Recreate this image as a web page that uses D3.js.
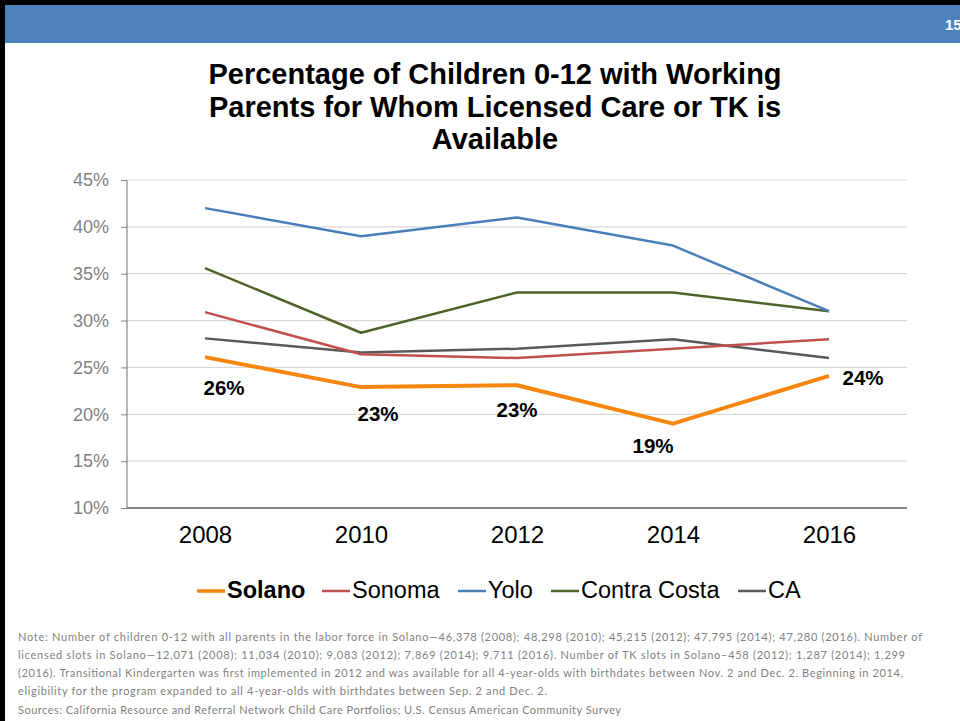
<!DOCTYPE html>
<html><head><meta charset="utf-8">
<script src="https://cdn.jsdelivr.net/npm/d3@7"></script>
<style>html,body{margin:0;padding:0;background:#fff;}svg{display:block;}</style>
</head><body>
<svg id="c" width="960" height="721"></svg>
<script>
const years = ["2008","2010","2012","2014","2016"];
const yTicks = [10,15,20,25,30,35,40,45];
const solano = [26.1,22.9,23.1,19.0,24.1];
const sonoma = [30.9,26.4,26.0,27.0,28.0];
const yolo = [42.0,39.0,41.0,38.0,31.0];
const contraCosta = [35.6,28.7,33.0,33.0,31.0];
const ca = [28.1,26.6,27.0,28.0,26.0];
const seriesNames = ["Solano","Sonoma","Yolo","Contra Costa","CA"];
const solanoLabels = ["26%","23%","23%","19%","24%"];
const titleLines = ["Percentage of Children 0-12 with Working","Parents for Whom Licensed Care or TK is","Available"];
const noteLines = [
"Note: Number of children 0-12 with all parents in the labor force in Solano\u201446,378 (2008); 48,298 (2010); 45,215 (2012); 47,795 (2014); 47,280 (2016). Number of",
"licensed slots in Solano\u201412,071 (2008); 11,034 (2010); 9,083 (2012); 7,869 (2014); 9,711 (2016). Number of TK slots in Solano\u2013458 (2012); 1,287 (2014); 1,299",
"(2016). Transitional Kindergarten was first implemented in 2012 and was available for all 4-year-olds with birthdates between Nov. 2 and Dec. 2. Beginning in 2014,",
"eligibility for the program expanded to all 4-year-olds with birthdates between Sep. 2 and Dec. 2.",
"Sources: California Resource and Referral Network Child Care Portfolios; U.S. Census American Community Survey"];

const series = [
  {name:seriesNames[0], values:solano, color:"#F7860F", width:4},
  {name:seriesNames[1], values:sonoma, color:"#C0504D", width:2.5},
  {name:seriesNames[2], values:yolo, color:"#4A7EBB", width:2.5},
  {name:seriesNames[3], values:contraCosta, color:"#4F6228", width:2.5},
  {name:seriesNames[4], values:ca, color:"#595959", width:2.5}
];

const FONT = "Liberation Sans, Arial, sans-serif";
const svg = d3.select("#c");
// slide frame
svg.append("rect").attr("x",0).attr("y",0).attr("width",960).attr("height",721).attr("fill","#000");
svg.append("rect").attr("x",5).attr("y",5).attr("width",955).attr("height",716).attr("fill","#fff");
svg.append("rect").attr("x",5).attr("y",5).attr("width",955).attr("height",38).attr("fill","#4F81BD");
svg.append("text").attr("x",945).attr("y",30).attr("font-family",FONT)
  .attr("font-weight","bold").attr("font-size",15).attr("fill","#fff").text("15");

// title
const tg = svg.append("g");
titleLines.forEach((t,i)=>{
  tg.append("text").attr("x",495).attr("y",84+i*32.5).attr("text-anchor","middle")
    .attr("font-family",FONT).attr("font-weight","bold")
    .attr("font-size",29).attr("fill","#000").text(t);
});

const x = d3.scalePoint().domain(years).range([127,907]).padding(0.5);
const y = d3.scaleLinear().domain([10,45]).range([508,180]);

// gridlines
svg.append("g").selectAll("line").data(yTicks.filter(d=>d>10)).join("line")
  .attr("x1",127).attr("x2",907).attr("y1",d=>y(d)).attr("y2",d=>y(d))
  .attr("stroke","#D9D9D9").attr("stroke-width",1.2);

// y axis
const ya = svg.append("g").attr("transform","translate(127,0)")
  .call(d3.axisLeft(y).tickValues(yTicks).tickFormat(d=>d+"%").tickSize(6).tickPadding(12));
ya.select(".domain").attr("stroke","#868686").attr("stroke-width",1.2).attr("d","M0,180V508");
ya.selectAll(".tick line").attr("stroke","#868686");
ya.selectAll("text").attr("font-family",FONT).attr("font-size",18).attr("fill","#7F7F7F");

// x axis
const xa = svg.append("g").attr("transform","translate(0,508)")
  .call(d3.axisBottom(x).tickSize(0).tickPadding(18));
xa.select(".domain").attr("stroke","#868686").attr("stroke-width",2).attr("d","M127,0H907");
xa.selectAll("text").attr("font-family",FONT).attr("font-size",24).attr("fill","#000");

// lines
const line = d3.line().x((d,i)=>x(years[i])).y(d=>y(d));
[...series].reverse().forEach(s=>{
  svg.append("path").datum(s.values).attr("d",line).attr("fill","none")
    .attr("stroke",s.color).attr("stroke-width",s.width).attr("stroke-linejoin","round");
});

// solano labels
const lblOff = [[19,38],[17,34],[0,32],[-20,29],[34,9]];
svg.append("g").selectAll("text").data(solano).join("text")
  .attr("x",(d,i)=>x(years[i])+lblOff[i][0]).attr("y",(d,i)=>y(d)+lblOff[i][1])
  .attr("text-anchor","middle").attr("font-family",FONT)
  .attr("font-weight","bold").attr("font-size",20.5).attr("fill","#000")
  .text((d,i)=>solanoLabels[i]);

// legend
const legX = [197,322,458,551,738];
const lg = svg.append("g");
series.forEach((s,i)=>{
  const lx = legX[i];
  lg.append("line").attr("x1",lx).attr("x2",lx+28).attr("y1",591).attr("y2",591)
    .attr("stroke",s.color).attr("stroke-width",s.width===4?3.5:2.5);
  lg.append("text").attr("x",lx+30).attr("y",598)
    .attr("font-family",FONT).attr("font-size",23.5)
    .attr("font-weight",i===0?"bold":"normal").attr("fill","#000").text(s.name);
});

// notes
const noteY = [641,659,677,695,714];
const noteLen = [904,887,885,529,603];
noteLines.forEach((t,i)=>{
  svg.append("text").attr("x",18).attr("y",noteY[i])
    .attr("font-family","Lato, 'Open Sans', sans-serif").attr("font-size",11)
    .attr("fill","#7F7F7F").attr("textLength",noteLen[i]).attr("lengthAdjust","spacing").text(t);
});
</script>
</body></html>
